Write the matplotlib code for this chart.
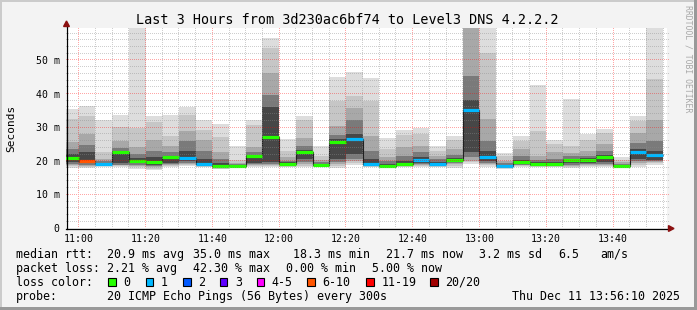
import numpy as np
import pandas as pd
import matplotlib
matplotlib.use('Agg')
import matplotlib.pyplot as plt
import matplotlib.dates as mdates
from matplotlib.ticker import MultipleLocator, FuncFormatter
from matplotlib.patches import Rectangle, Polygon
from matplotlib.lines import Line2D

# --- datos: 36 pasos de 5 min, bandas de humo (ms) ---
step_start = pd.date_range('2025-12-11 10:55', periods=36, freq='5min')

hi1 = [35.5, 36.4, 32.0, 33.7, 60.0, 33.4, 33.7, 36.0, 32.0, 31.0, 24.3, 32.0,
       56.4, 26.6, 33.4, 24.5, 45.0, 46.5, 44.7, 26.8, 29.3, 29.8, 24.5, 27.3,
       80.0, 62.0, 22.4, 27.3, 42.4, 26.3, 38.5, 28.1, 29.6, 21.1, 33.4, 60.0]
hi2 = [32.5, 33.4, 22.5, 30.0, 29.8, 31.5, 27.5, 33.7, 29.3, 27.0, 20.2, 30.5,
       53.6, 23.0, 32.2, 21.5, 37.7, 39.2, 37.7, 23.5, 27.8, 28.0, 23.0, 26.3,
       75.0, 52.1, 21.5, 25.8, 29.0, 25.0, 24.3, 26.3, 28.3, 20.3, 31.7, 44.2]
hi3 = [25.5, 28.0, 20.5, 25.8, 24.0, 26.3, 24.5, 28.8, 26.3, 22.5, 19.3, 24.0,
       46.2, 21.0, 26.8, 20.3, 30.2, 35.7, 27.3, 21.0, 24.0, 24.5, 21.5, 23.5,
       65.0, 32.5, 20.0, 23.5, 21.5, 22.5, 22.3, 23.0, 25.0, 19.5, 28.3, 32.2]
hi4 = [23.5, 24.8, 19.8, 23.8, 22.0, 23.0, 22.5, 25.8, 23.0, 20.5, 19.0, 22.5,
       39.5, 20.0, 24.3, 19.6, 27.8, 32.2, 23.0, 19.8, 21.5, 22.5, 20.5, 21.8,
       45.2, 26.0, 19.2, 21.5, 20.3, 20.5, 21.3, 21.5, 23.0, 19.0, 25.3, 26.0]
hi5 = [22.0, 22.5, 19.3, 23.0, 20.8, 21.0, 21.5, 22.8, 20.5, 19.3, 18.8, 21.6,
       36.0, 19.5, 23.2, 19.1, 26.5, 28.0, 20.5, 19.0, 20.0, 21.0, 19.7, 20.8,
       38.0, 23.0, 18.8, 20.2, 19.6, 19.6, 20.6, 20.8, 21.8, 18.7, 23.5, 23.0]
lo5 = [19.5, 19.2, 18.7, 19.2, 19.2, 18.8, 19.3, 19.8, 18.8, 18.2, 18.4, 19.3,
       19.5, 18.8, 20.5, 18.6, 20.5, 22.0, 18.7, 18.3, 18.6, 19.3, 18.8, 19.5,
       22.5, 19.8, 18.2, 19.0, 18.7, 18.7, 19.2, 19.3, 19.5, 18.3, 20.5, 20.3]
lo4 = [19.0, 18.8, 18.6, 18.8, 18.8, 18.4, 18.9, 19.3, 18.6, 18.0, 18.3, 18.9,
       19.0, 18.6, 19.5, 18.5, 19.5, 20.5, 18.5, 18.2, 18.5, 19.0, 18.6, 19.2,
       21.0, 19.4, 18.1, 18.8, 18.5, 18.5, 18.8, 19.0, 19.0, 18.2, 19.8, 19.8]
lo3 = [18.7, 18.5, 18.4, 18.6, 18.4, 18.0, 18.6, 18.9, 18.4, 17.9, 18.2, 18.6,
       18.7, 18.4, 19.0, 18.3, 19.0, 19.8, 18.3, 18.1, 18.3, 18.7, 18.4, 18.9,
       20.0, 19.0, 18.0, 18.6, 18.3, 18.3, 18.5, 18.7, 18.7, 18.1, 19.2, 19.5]
lo2 = [18.3, 18.2, 18.3, 18.3, 18.0, 17.6, 18.4, 18.6, 18.2, 17.7, 18.1, 18.4,
       18.4, 18.2, 18.5, 18.2, 18.5, 19.3, 18.2, 18.0, 18.2, 18.5, 18.2, 18.5,
       19.5, 18.6, 17.9, 18.4, 18.2, 18.2, 18.2, 18.5, 18.4, 18.0, 18.6, 19.2]
lo1 = [17.8, 17.8, 18.2, 18.0, 17.5, 17.3, 18.1, 18.3, 18.0, 17.5, 18.0, 18.2,
       18.0, 18.0, 18.0, 18.0, 17.8, 18.8, 18.0, 17.8, 18.0, 18.2, 18.0, 17.8,
       19.0, 18.2, 17.7, 18.2, 18.0, 18.0, 17.8, 18.2, 18.2, 17.8, 18.2, 18.8]
median = [20.8, 19.8, 18.9, 22.6, 19.8, 19.5, 21.0, 20.8, 19.1, 18.5, 18.5, 21.3,
          27.0, 19.1, 22.7, 18.8, 25.7, 26.6, 19.1, 18.5, 18.9, 20.3, 19.1, 20.2,
          35.0, 21.0, 18.3, 19.5, 19.0, 19.0, 20.1, 20.3, 21.2, 18.5, 22.7, 21.7]
# pings perdidos de 20 en cada paso
loss = [0, 7, 1, 0, 0, 0, 0, 1, 1, 0, 0, 0, 0, 0, 0, 0, 0, 1,
        1, 0, 0, 1, 1, 0, 1, 1, 1, 0, 0, 0, 0, 0, 0, 0, 1, 1]

loss_labels = ['0', '1', '2', '3', '4-5', '6-10', '11-19', '20/20']
loss_colors = ['#26ff00', '#00b8ff', '#0059ff', '#5e00ff', '#ff00ff', '#ff5500', '#ff0000', '#a10000']
loss_limits = [0, 1, 2, 3, 5, 10, 19, 20]

smoke_colors = ['#dddddd', '#c6c6c6', '#a8a8a8', '#7a7a7a', '#474747']

title = 'Last 3 Hours from 3d230ac6bf74 to Level3 DNS 4.2.2.2'
mono = 'DejaVu Sans Mono'

# === FIGURA ===
W, H = 697, 310
fig = plt.figure(figsize=(W / 100, H / 100), dpi=100, facecolor='#f3f3f3')


def fx(px):
    return px / W


def fy(py):
    return 1 - py / H


# area del grafico en pixeles enteros: x 66..667, y 28..228
ax = fig.add_axes([fx(66), fy(228), fx(667) - fx(66), fy(28) - fy(228)])
ax.set_facecolor('white')

x = mdates.date2num(step_start)
w = 5 / 1440

# humo: bandas de claro a oscuro
bands = [(lo1, hi1), (lo2, hi2), (lo3, hi3), (lo4, hi4), (lo5, hi5)]
for (lo, hi), c in zip(bands, smoke_colors):
    lo = np.array(lo)
    hi = np.array(hi)
    ax.bar(x, hi - lo, bottom=lo, width=w, align='edge', color=c, linewidth=0, zorder=1)

# mediana
edges = np.append(x, x[-1] + w)
ax.stairs(median, edges, baseline=None, color='#202020', lw=0.8, zorder=3)
seg_colors = [loss_colors[np.searchsorted(loss_limits, n)] for n in loss]
ax.hlines(median, x, x + w, colors=seg_colors, lw=2.3, zorder=4, capstyle='butt')

ax.set_xlim(mdates.date2num(pd.Timestamp('2025-12-11 10:56:10')),
            mdates.date2num(pd.Timestamp('2025-12-11 13:56:10')))
ax.set_ylim(0, 59.5)

ax.yaxis.set_major_locator(MultipleLocator(10))
ax.xaxis.set_major_locator(mdates.MinuteLocator(byminute=[0, 20, 40]))
ax.xaxis.set_major_formatter(mdates.DateFormatter('%H:%M'))
ax.yaxis.set_major_formatter(FuncFormatter(lambda v, p: '0' if v == 0 else f'{v:.0f} m'))

ax.tick_params(which='both', length=0)
ax.tick_params(axis='y', pad=4.6, labelsize=7.1)
ax.tick_params(axis='x', pad=4.0, labelsize=7.1)
for lab in ax.get_xticklabels() + ax.get_yticklabels():
    lab.set_family(mono)
for s in ax.spines.values():
    s.set_visible(False)

# === REJILLA PUNTEADA (1 px si, 1 px no) como imagen encima ===
grid = np.zeros((H, W, 4))
(px0, py0), (px1, py1) = ax.transAxes.transform([(0, 0), (1, 1)])
c0, c1 = int(round(px0)), int(round(px1)) + 2
r_top, r_bot = H - int(round(py1)), H - int(round(py0))
minor_rgba = (0.55, 0.55, 0.55, 0.42)
major_rgba = (1.0, 0.0, 0.0, 0.35)


def row_of(v):
    return int(np.floor(H - ax.transData.transform((0, v))[1]))


def col_of(t):
    return int(np.floor(ax.transData.transform((t, 0))[0]))


t_lo, t_hi = ax.get_xlim()
minor_times = pd.date_range('2025-12-11 11:00', '2025-12-11 13:55', freq='5min')
for t in minor_times:
    tn = mdates.date2num(t)
    rgba = major_rgba if t.minute % 20 == 0 else minor_rgba
    grid[r_top:r_bot:2, col_of(tn)] = rgba
for v in np.arange(2, 59, 2):
    rgba = major_rgba if v % 10 == 0 else minor_rgba
    grid[row_of(v), c0:c1:2] = rgba
fig.figimage(grid, xo=0, yo=0, origin='upper', zorder=1)

# ejes con flechas
fig.add_artist(Line2D([fx(66.5), fx(66.5)], [fy(228.5), fy(24)], color='black', lw=0.9, zorder=3))
fig.add_artist(Line2D([fx(66), fx(669)], [fy(228.5), fy(228.5)], color='black', lw=0.9, zorder=3))
fig.add_artist(Polygon([[fx(66.5), fy(21)], [fx(63.6), fy(26.5)], [fx(69.4), fy(26.5)]],
                       closed=True, color='#8b1010', transform=fig.transFigure, zorder=3))
fig.add_artist(Polygon([[fx(674), fy(228.5)], [fx(668.5), fy(225.6)], [fx(668.5), fy(231.4)]],
                       closed=True, color='#8b1010', transform=fig.transFigure, zorder=3))

# textos
fig.text(fx(347.5), fy(20), title, ha='center', va='center', fontsize=9.75, family=mono)
fig.text(fx(11), fy(128), 'Seconds', rotation=90, ha='center', va='center', fontsize=8, family=mono)
fig.text(fx(688), fy(59), 'RRDTOOL / TOBI OETIKER', rotation=270, ha='center', va='center',
         fontsize=5.9, family=mono, color='#a8a8a8')

fs = 8.37
line1 = [(16, 'median rtt:'), (107.3, '20.9 ms avg'), (193.3, '35.0 ms max'), (293.3, '18.3 ms min'),
         (386.3, '21.7 ms now'), (479.3, '3.2 ms sd'), (558, '6.5'), (600.3, 'am/s')]
line2 = [(16, 'packet loss:'), (107.3, '2.21 % avg'), (193.3, '42.30 % max'), (285.7, '0.00 % min'),
         (372, '5.00 % now')]
for xp, s in line1:
    fig.text(fx(xp), fy(254.3), s, ha='left', va='center', fontsize=fs, family=mono)
for xp, s in line2:
    fig.text(fx(xp), fy(268.3), s, ha='left', va='center', fontsize=fs, family=mono)

fig.text(fx(16), fy(282.3), 'loss color:', ha='left', va='center', fontsize=fs, family=mono)
box_x = [108.3, 146, 183.3, 220, 256.7, 307.3, 366.3, 430.3]
for bx, lab, c in zip(box_x, loss_labels, loss_colors):
    fig.add_artist(Rectangle((fx(bx), fy(286.3)), 7.3 / W, 8 / H, facecolor=c, edgecolor='black',
                             lw=0.8, transform=fig.transFigure))
    fig.text(fx(bx + 15), fy(282.3), lab, ha='left', va='center', fontsize=fs, family=mono)

fig.text(fx(16), fy(296.7), 'probe:', ha='left', va='center', fontsize=fs, family=mono)
fig.text(fx(107.3), fy(296.7), '20 ICMP Echo Pings (56 Bytes) every 300s', ha='left', va='center',
         fontsize=fs, family=mono)
fig.text(fx(680.3), fy(296.7), 'Thu Dec 11 13:56:10 2025', ha='right', va='center', fontsize=fs, family=mono)

# marco sombreado
fig.add_artist(Rectangle((0, 0), fx(2), 1, facecolor='#cbcbcb', lw=0, transform=fig.transFigure))
fig.add_artist(Rectangle((0, fy(2)), 1, 2 / H, facecolor='#cbcbcb', lw=0, transform=fig.transFigure))
fig.add_artist(Rectangle((fx(694), 0), 3 / W, 1, facecolor='#999999', lw=0, transform=fig.transFigure))
fig.add_artist(Rectangle((0, 0), 1, 3 / H, facecolor='#999999', lw=0, transform=fig.transFigure))

fig.savefig('out.png', dpi=100, facecolor=fig.get_facecolor())
